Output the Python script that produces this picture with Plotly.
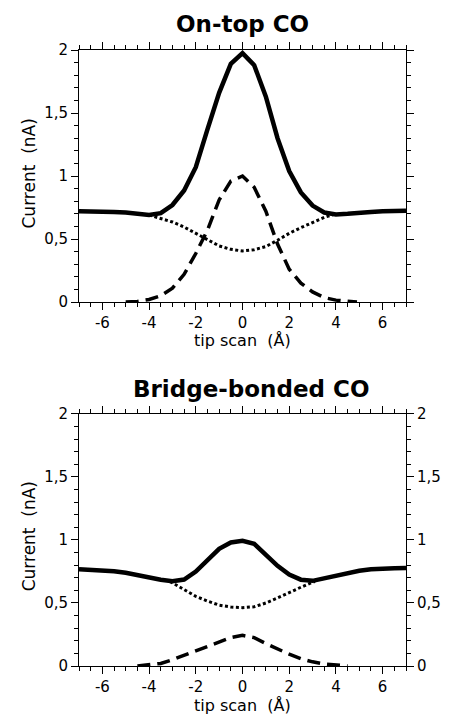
import plotly.graph_objects as go

# ---------------- data ----------------
x_full = [-7, -6.5, -6, -5.5, -5, -4.5, -4, -3.5, -3, -2.5, -2, -1.5, -1, -0.5, 0,
          0.5, 1, 1.5, 2, 2.5, 3, 3.5, 4, 4.5, 5, 5.5, 6, 6.5, 7]

# On-top CO
top_solid = [0.72, 0.72, 0.72, 0.715, 0.71, 0.70, 0.69, 0.705, 0.77, 0.885, 1.07, 1.37, 1.66, 1.89, 1.975,
             1.88, 1.63, 1.30, 1.04, 0.87, 0.765, 0.71, 0.695, 0.70, 0.71, 0.715, 0.72, 0.725, 0.725]
top_dot_x = [-4, -3.5, -3, -2.5, -2, -1.5, -1, -0.5, 0, 0.5, 1, 1.5, 2, 2.5, 3, 3.5, 4]
top_dot = [0.69, 0.665, 0.635, 0.595, 0.545, 0.49, 0.445, 0.418, 0.405, 0.415, 0.44, 0.49, 0.545, 0.59, 0.632, 0.672, 0.70]
top_dash_x = [-5, -4.5, -4, -3.5, -3, -2.5, -2, -1.5, -1, -0.5, 0, 0.5, 1, 1.5, 2, 2.5, 3, 3.5, 4, 4.5, 4.9]
top_dash = [0.0, 0.005, 0.02, 0.05, 0.11, 0.22, 0.385, 0.57, 0.81, 0.96, 1.0, 0.91, 0.72, 0.46, 0.26, 0.15, 0.08, 0.035, 0.015, 0.005, 0.0]

# Bridge-bonded CO
bot_solid = [0.768, 0.765, 0.76, 0.752, 0.74, 0.72, 0.70, 0.685, 0.673, 0.686, 0.75, 0.845, 0.93, 0.98, 0.993,
             0.97, 0.885, 0.795, 0.725, 0.685, 0.676, 0.695, 0.72, 0.74, 0.756, 0.767, 0.774, 0.776, 0.777]
bot_dot_x = [-3.1, -2.5, -2, -1.5, -1, -0.5, 0, 0.5, 1, 1.5, 2, 2.5, 3.1]
bot_dot = [0.67, 0.605, 0.553, 0.515, 0.483, 0.468, 0.463, 0.47, 0.50, 0.54, 0.585, 0.625, 0.672]
bot_dash_x = [-4.5, -4, -3.5, -3, -2.5, -2, -1.5, -1, -0.5, 0, 0.5, 1, 1.5, 2, 2.5, 3, 3.5, 4, 4.5]
bot_dash = [0.0, 0.008, 0.02, 0.05, 0.085, 0.12, 0.158, 0.195, 0.225, 0.243, 0.225, 0.178, 0.135, 0.094, 0.058, 0.033, 0.016, 0.006, 0.0]

x_tickvals = [-6, -4, -2, 0, 2, 4, 6]
x_ticktext = ["-6", "-4", "-2", "0", "2", "4", "6"]
y_tickvals = [0, 0.5, 1, 1.5, 2]
y_ticktext = ["0", "0,5", "1", "1,5", "2"]

titles = ["On-top CO", "Bridge-bonded CO"]
x_title = "tip scan  (Å)"
y_title = "Current  (nA)"

# ---------------- figure ----------------
FONT = "DejaVu Sans"
fig = go.Figure()

def add_panel(xa, ya, solid, dx, dy, sx, sy):
    fig.add_trace(go.Scatter(x=x_full, y=solid, mode="lines", xaxis=xa, yaxis=ya,
                             line=dict(color="black", width=4.5), hoverinfo="skip"))
    fig.add_trace(go.Scatter(x=dx, y=dy, mode="lines", xaxis=xa, yaxis=ya,
                             line=dict(color="black", width=3, dash="3px,2.5px"), hoverinfo="skip"))
    fig.add_trace(go.Scatter(x=sx, y=sy, mode="lines", xaxis=xa, yaxis=ya,
                             line=dict(color="black", width=3.5, dash="13px,7px"), hoverinfo="skip"))

add_panel("x", "y", top_solid, top_dot_x, top_dot, top_dash_x, top_dash)
add_panel("x2", "y2", bot_solid, bot_dot_x, bot_dot, bot_dash_x, bot_dash)

xcommon = dict(range=[-7, 7], showgrid=False, zeroline=False, showline=True, linecolor="black",
               linewidth=1, mirror="ticks", ticks="outside", ticklen=7, tickwidth=1, tickcolor="black",
               tickvals=x_tickvals, ticktext=x_ticktext,
               tickfont=dict(family=FONT, size=15, color="black"),
               minor=dict(dtick=0.5, tick0=0, ticks="outside", ticklen=4, tickcolor="black", showgrid=False))
ycommon = dict(range=[0, 2], showgrid=False, zeroline=False, showline=True, linecolor="black",
               linewidth=1, mirror="ticks", ticks="outside", ticklen=7, tickwidth=1, tickcolor="black",
               tickvals=y_tickvals, ticktext=y_ticktext,
               tickfont=dict(family=FONT, size=15, color="black"),
               minor=dict(dtick=0.1, tick0=0, ticks="outside", ticklen=4, tickcolor="black", showgrid=False))

fig.update_layout(
    width=453, height=715,
    margin=dict(l=79, r=39, t=50, b=49),
    paper_bgcolor="white", plot_bgcolor="white",
    showlegend=False,
    xaxis=dict(domain=[0, 1], anchor="y", **xcommon),
    yaxis=dict(domain=[0.5909, 1.0], anchor="x", **ycommon),
    xaxis2=dict(domain=[0, 1], anchor="y2", **xcommon),
    yaxis2=dict(domain=[0.0, 0.4091], anchor="x2", **ycommon),
    yaxis3=dict(overlaying="y2", side="right", anchor="x2", **{k: v for k, v in ycommon.items() if k != "mirror"}),
)
# dummy trace to activate yaxis3
fig.add_trace(go.Scatter(x=[None], y=[None], xaxis="x2", yaxis="y3", showlegend=False, hoverinfo="skip"))

ann = []
ann.append(dict(text="<b>" + titles[0] + "</b>", x=0.5, y=1.042, xref="paper", yref="paper",
                showarrow=False, font=dict(family=FONT, size=23, color="black"), xanchor="center", yanchor="middle"))
ann.append(dict(text="<b>" + titles[1] + "</b>", x=0.525, y=0.4497, xref="paper", yref="paper",
                showarrow=False, font=dict(family=FONT, size=23, color="black"), xanchor="center", yanchor="middle"))
for yy in [0.529, -0.064]:
    ann.append(dict(text=x_title, x=0.5, y=yy, xref="paper", yref="paper", showarrow=False,
                    font=dict(family=FONT, size=16, color="black"), xanchor="center", yanchor="middle"))
for yy in [0.800, 0.211]:
    ann.append(dict(text=y_title, x=-0.152, y=yy, xref="paper", yref="paper", showarrow=False, textangle=-90,
                    font=dict(family=FONT, size=17, color="black"), xanchor="center", yanchor="middle"))
fig.update_layout(annotations=ann)

fig.write_html("out.html")
